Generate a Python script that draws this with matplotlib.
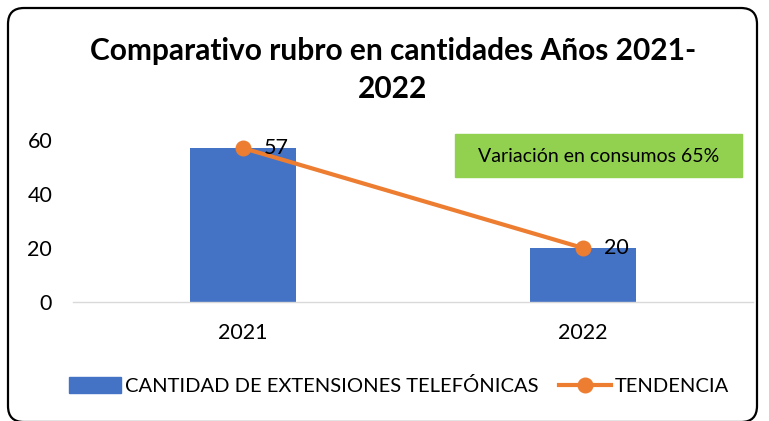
import matplotlib.pyplot as plt
import numpy as np
from matplotlib.patches import FancyBboxPatch
from matplotlib.lines import Line2D
from matplotlib.patches import Patch

plt.rcParams['font.family'] = ['Lato', 'DejaVu Sans']

# data
years = ['2021', '2022']
cantidades = [57, 20]
tendencia = [57, 20]
yticks = [0, 20, 40, 60]

blue = '#4472C4'
orange = '#ED7D31'

fig = plt.figure(figsize=(7.69, 4.21), dpi=100)

# rounded chart border (inches, so the corners stay round)
border = FancyBboxPatch((0.08, -0.01), 7.49, 4.14,
                        boxstyle="round,pad=0,rounding_size=0.16",
                        transform=fig.dpi_scale_trans, fill=False,
                        edgecolor='black', linewidth=1.6, clip_on=False)
fig.patches.append(border)

ax = fig.add_axes([73 / 769, 1 - 302 / 421, 680 / 769, 162 / 421])
x = np.arange(len(years))
ax.bar(x, cantidades, width=0.31, color=blue, zorder=2)
ax.plot(x, tendencia, color=orange, linewidth=3, marker='o', markersize=10.5, zorder=3)

for xi, v in zip(x, tendencia):
    ax.annotate(str(v), (xi, v), xytext=(15, 0), textcoords='offset points',
                va='center', ha='left', fontsize=15.5, color='black', zorder=4)

ax.set_xlim(-0.5, 1.5)
ax.set_ylim(0, 60)
ax.set_yticks(yticks)
ax.set_xticks(x)
ax.set_xticklabels(years)
ax.tick_params(axis='both', length=0, labelsize=15.5, colors='black')
ax.tick_params(axis='x', pad=15)
ax.tick_params(axis='y', pad=15)
for s in ['top', 'right', 'left']:
    ax.spines[s].set_visible(False)
ax.spines['bottom'].set_color('#D9D9D9')
ax.spines['bottom'].set_linewidth(1)

title_x = 393 / 769
fig.text(title_x, 1 - 51 / 421, 'Comparativo rubro en cantidades Años 2021-', ha='center', va='center',
         fontsize=21.5, fontweight='bold')
fig.text(title_x, 1 - 89 / 421, '2022', ha='center', va='center',
         fontsize=21.5, fontweight='bold')

# green note box
fig.patches.append(plt.Rectangle((455 / 769, 1 - 177 / 421), 287 / 769, 43 / 421,
                                 transform=fig.transFigure, color='#92D050', zorder=1))
fig.text((455 + 742) / 2 / 769, 1 - 156 / 421, 'Variación en consumos 65%',
         ha='center', va='center', fontsize=14)

handles = [Patch(color=blue, label='CANTIDAD DE EXTENSIONES TELEFÓNICAS'),
           Line2D([0], [0], color=orange, linewidth=3, marker='o', markersize=10.5,
                  label='TENDENCIA')]
fig.legend(handles=handles, loc='center', bbox_to_anchor=(399 / 769, 1 - 386 / 421), ncol=2,
           frameon=False, fontsize=14.5, handlelength=2.6, handletextpad=0.2,
           columnspacing=1.0, handleheight=0.8)

fig.savefig('out.png', dpi=100)
